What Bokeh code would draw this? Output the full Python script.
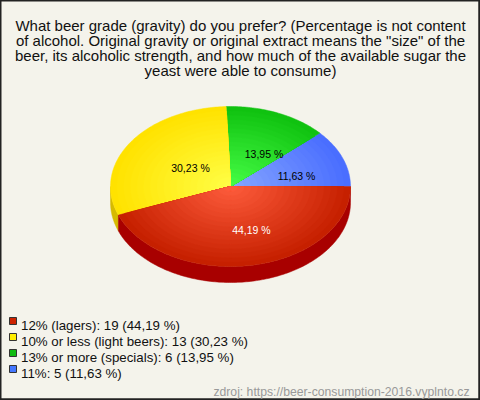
import numpy as np
from bokeh.plotting import figure
from bokeh.models import Range1d, ColumnDataSource
from bokeh.embed import file_html
from bokeh.resources import INLINE
from bokeh.core.properties import value

# ---------------- data ----------------
title_lines = [
    "What beer grade (gravity) do you prefer? (Percentage is not content",
    'of alcohol. Original gravity or original extract means the "size" of the',
    "beer, its alcoholic strength, and how much of the available sugar the",
    "yeast were able to consume)",
]
categories = ["12% (lagers)", "10% or less (light beers)", "13% or more (specials)", "11%"]
counts = [19, 13, 6, 5]
source_text = "zdroj: https://beer-consumption-2016.vyplnto.cz"

# ---------------- styles ----------------
legend_colors = ["#CC2200", "#FFEE00", "#11BB11", "#4477FF"]
rim_colors = ["#C62000", "#FFE200", "#10C210", "#4A6EFF"]
center_colors = ["#FF5E3E", "#FFFF48", "#48FF48", "#88A8FF"]
side_colors = ["#A80000", "#D6BA00", "#0A9A0A", "#3355CC"]
label_colors = ["#FFFFFF", "#000000", "#000000", "#000000"]
BG = "#F4F3EB"
FONT = "Liberation Sans"

W, H = 480, 400
CX, CY, RX, RY, DEPTH = 230.0, 186.0, 120.0, 80.0, 16.0


def hex2rgb(h):
    h = h.lstrip("#")
    return np.array([int(h[i:i + 2], 16) for i in (0, 2, 4)], dtype=float)


def mix(c1, c2, t):
    a, b = hex2rgb(c1), hex2rgb(c2)
    c = a + (b - a) * t
    return "#%02X%02X%02X" % tuple(int(round(v)) for v in c)


def arc(a0, a1, f=1.0, dy=0.0):
    n = max(2, int(abs(a1 - a0) / (np.pi / 180)) + 2)
    t = np.linspace(a0, a1, n)
    return CX + f * RX * np.cos(t), CY + dy - f * RY * np.sin(t)


p = figure(width=W, height=H, x_range=Range1d(0, W), y_range=Range1d(H, 0),
           output_backend="svg", toolbar_location=None, min_border=0,
           x_axis_type=None, y_axis_type=None,
           background_fill_color=BG, border_fill_color=BG)
p.outline_line_color = "#222222"
p.outline_line_width = 2
# slightly heavier right / bottom frame edges
p.segment(x0=[W - 1.5, 0], y0=[0, H - 1.5], x1=[W - 1.5, W], y1=[H, H - 1.5],
          line_color="#222222", line_width=1)

total = float(sum(counts))
pcts = [100.0 * c / total for c in counts]
order = sorted(range(len(counts)), key=lambda i: counts[i])  # ascending, ccw from 3 o'clock
starts, ends = {}, {}
acc = 0.0
for i in order:
    starts[i] = acc * 2 * np.pi
    acc += counts[i] / total
    ends[i] = acc * 2 * np.pi

# side (depth) faces
for i in order:
    a0, a1 = max(starts[i], np.pi), min(ends[i], 2 * np.pi)
    if a1 > a0:
        xt, yt = arc(a0, a1)
        xb, yb = arc(a1, a0, dy=DEPTH)
        p.patch(list(xt) + list(xb), list(yt) + list(yb), fill_color=side_colors[i],
                line_color=side_colors[i], line_width=0.5)

# top faces, shaded with concentric layers
for i in order:
    xs, ys, cols = [], [], []
    for f in np.linspace(1.0, 0.06, 18):
        ax, ay = arc(starts[i], ends[i], f=f)
        xs.append([CX] + list(ax))
        ys.append([CY] + list(ay))
        cols.append(mix(rim_colors[i], center_colors[i], 1.0 - f))
    p.patches(xs, ys, fill_color=cols, line_color=cols, line_width=0.5)

# slice labels
lx, ly, lt = [], [], []
for i in range(len(counts)):
    mid = 0.5 * (starts[i] + ends[i])
    lx.append(CX + 10 + 0.5 * RX * np.cos(mid))
    ly.append(CY + 4 - 0.5 * RY * np.sin(mid))
    lt.append(("%.2f" % pcts[i]).replace(".", ",") + " %")
p.text(x="x", y="y", text="t", text_color="c",
       source=ColumnDataSource(dict(x=lx, y=ly, t=lt, c=label_colors)),
       text_align="center", text_baseline="middle",
       text_font=value(FONT), text_font_size=value("10.5px"))

# title
p.text(x=[240] * len(title_lines), y=[25 + 15 * k for k in range(len(title_lines))],
       text=title_lines, text_align="center", text_baseline="alphabetic",
       text_font=value(FONT), text_font_size=value("15px"), text_color="#111111")

# legend
leg_base = [325 + 16 * k for k in range(len(categories))]
leg_text = ["%s: %d (%s %%)" % (categories[k], counts[k], ("%.2f" % pcts[k]).replace(".", ","))
            for k in range(len(categories))]
p.rect(x=[12.5] * len(categories), y=[b - 4.5 for b in leg_base], width=7, height=7,
       fill_color=legend_colors, line_color="#333333", line_width=1)
p.text(x=[20.5] * len(categories), y=leg_base, text=leg_text, text_align="left",
       text_baseline="alphabetic", text_font=value(FONT), text_font_size=value("13.3px"),
       text_color="#111111")

# source
p.text(x=[469], y=[391], text=[source_text], text_align="right", text_baseline="alphabetic",
       text_font=value(FONT), text_font_size=value("12.2px"), text_color="#999999")

open("out.html", "w").write(file_html(p, INLINE))
